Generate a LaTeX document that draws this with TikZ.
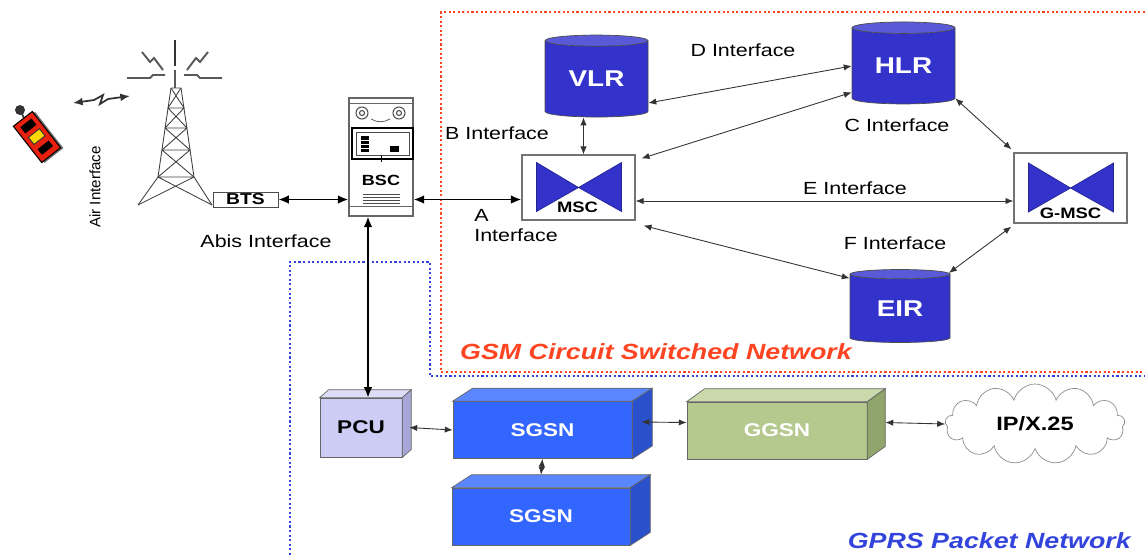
\documentclass[tikz,border=0pt]{standalone}
\usepackage{fontspec}
\setmainfont{Liberation Sans}[FakeStretch=1.22]
\newfontfamily\plainsans{Liberation Sans}
\usetikzlibrary{arrows.meta,positioning,shapes.geometric,shapes.symbols}

\definecolor{gsmred}{HTML}{FF4422}
\definecolor{gprsblue}{HTML}{3344DD}
\definecolor{dbblue}{HTML}{3333CC}
\definecolor{dbtop}{HTML}{5A5AD8}
\definecolor{sgsnfront}{HTML}{3366FF}
\definecolor{sgsntop}{HTML}{5A86FF}
\definecolor{sgsnside}{HTML}{2A50CC}
\definecolor{ggsnfront}{HTML}{B5C98E}
\definecolor{ggsntop}{HTML}{CAD9AC}
\definecolor{ggsnside}{HTML}{8FA56B}
\definecolor{pcufront}{HTML}{CCCCF5}
\definecolor{pcutop}{HTML}{DDDDF8}
\definecolor{pcuside}{HTML}{A8A8D8}
\definecolor{phonered}{HTML}{E82010}

\begin{document}
\begin{tikzpicture}[x=0.02cm, y=-0.02cm,
    iflabel/.style={font=\fontsize{10}{11.5}\selectfont, inner sep=0pt},
    swlabel/.style={font=\bfseries\fontsize{8.6}{10}\selectfont, inner sep=0pt},
    link/.style={{Latex[length=4.5pt,width=3.6pt]}-{Latex[length=4.5pt,width=3.6pt]}, line width=0.5pt, black!80},
    mainlink/.style={{Latex[length=6pt,width=5pt]}-{Latex[length=6pt,width=5pt]}, line width=1.1pt},
    dbase/.style={cylinder, shape border rotate=90, aspect=0.2, draw=black!70,
        cylinder uses custom fill, cylinder body fill=dbblue, cylinder end fill=dbtop,
        text=white, font=\bfseries\fontsize{13}{14}\selectfont, inner sep=0pt},
    switchbox/.style={draw=black!55, fill=white, line width=0.7pt, minimum width=2.26cm},
    bowtie/.style={fill=dbblue, draw=dbblue!70!black, line width=0.4pt},
    crate/.style={draw=black!60, minimum height=1.14cm, text=white,
        font=\bfseries\fontsize{10.5}{12}\selectfont},
    frame/.style={line width=1.2pt, dash pattern=on 1.2pt off 1.4pt},
    mast/.style={draw=black!75, line width=0.5pt},
    bolt/.style={draw=black!65, line width=1.1pt}
]
\useasboundingbox (0,0) rectangle (1145,555);

% network borders
\draw[frame, gsmred] (1145,12) -- (441,12) -- (441,372) -- (1145,372);
\draw[frame, gprsblue] (290,555) -- (290,262) -- (430,262) -- (430,376) -- (1145,376);
\node[anchor=west, text=gsmred, font=\bfseries\itshape\fontsize{12.5}{14}\selectfont] (gsmnet) at (454,352) {GSM Circuit Switched Network};
\node[anchor=east, text=gprsblue, font=\bfseries\itshape\fontsize{12.5}{14}\selectfont] (gprsnet) at (1137,541) {GPRS Packet Network};

% handset
\fill[black!80] (20,110) circle (0.1cm);
\draw[black!80, line width=1pt] (20,110) -- (24,118);
\begin{scope}[shift={(37,137)}, rotate=38]
    \fill[black!55] (-10,-21) rectangle (14,25);
    \filldraw[draw=black, fill=phonered, line width=0.6pt] (-12,-23) rectangle (12,23);
    \fill[black] (-7,-18) rectangle (7,-10);
    \filldraw[fill=yellow!75!orange, draw=black!80, line width=0.5pt] (-7,-5) rectangle (7,4);
    \fill[black] (-7,10) rectangle (7,17);
\end{scope}
\draw[{Latex[length=5.5pt,width=4.5pt]}-{Latex[length=5.5pt,width=4.5pt]}, black!80, line width=1pt]
    (73,103) -- (94,100) -- (103,95) -- (100,104) -- (108,99) -- (130,96);
\node[rotate=90, inner sep=0pt, font=\plainsans\fontsize{8.6}{10}\selectfont] (airif) at (95,187) {Air Interface};

% antenna tower
\draw[line width=1.4pt, black!80] (175,40) -- (175,66);
\draw[line width=1pt, black!65] (175,70) -- (175,88);
\draw[bolt] (142,52) -- (150,62) -- (154,58) -- (163,70);
\draw[bolt] (208,52) -- (200,62) -- (196,58) -- (187,70);
\draw[bolt] (127,78) -- (150,78) -- (153,75) -- (165,75);
\draw[bolt] (184,75) -- (197,75) -- (200,78) -- (222,78);
\draw[mast] (171,88) -- (158,177) -- (138,205);
\draw[mast] (181,88) -- (194,177) -- (212,205);
\foreach \ya/\la/\ra/\yb/\lb/\rb in {88/171/181/108/168/184, 108/168/184/128/165/187,
        128/165/187/150/162/190, 150/162/190/177/158/194, 177/158/194/205/138/212} {
    \draw[mast] (\la,\ya) -- (\ra,\ya) (\la,\ya) -- (\rb,\yb) (\ra,\ya) -- (\lb,\yb);
}

% base station side
\node[draw=black!70, fill=white, minimum width=1.3cm, minimum height=0.3cm, inner sep=0pt,
    font=\bfseries\fontsize{9}{10}\selectfont] (bts) at (245.5,199.5) {BTS};
\node[iflabel] (abisif) at (266,241) {Abis Interface};

\node[draw=black!60, fill=white, line width=0.7pt, minimum width=1.28cm, minimum height=2.36cm] (bsc) at (381,157) {};
\draw[black!60] (349,103) -- (413,103) (349,206) -- (413,206);
\foreach \cx in {362,399} {
    \draw[black!70, line width=0.6pt] (\cx,113) circle (0.12cm) (\cx,113) circle (0.05cm);
}
\draw[black!70] (371,119) to[bend right=30] (390,119);
\draw[black, line width=0.9pt] (352,128) rectangle (413,159);
\draw[black!70] (356,132) rectangle (409,155);
\fill[black] (361,136) rectangle (369,152);
\draw[white, line width=0.4pt] (361,140) -- (369,140) (361,144) -- (369,144) (361,148) -- (369,148);
\fill[black] (390,146) rectangle (399,152);
\draw[black] (381,155) -- (381,162);
\foreach \ly in {194,197,200,203} {
    \draw[black!70, line width=0.5pt] (363,\ly) -- (400,\ly);
}
\node[swlabel, font=\bfseries\fontsize{8.4}{10}\selectfont] (bsctxt) at (381,180) {BSC};

% switching centres
\node[switchbox, minimum height=1.3cm] (msc) at (578.5,187.5) {};
\node[switchbox, minimum height=1.4cm] (gmsc) at (1070.5,188) {};
\foreach \sw in {msc, gmsc} {
    \filldraw[bowtie] ([shift={(-42,-25)}]\sw.center) -- (\sw.center) -- ([shift={(-42,24)}]\sw.center) -- cycle;
    \filldraw[bowtie] ([shift={(43,-25)}]\sw.center) -- (\sw.center) -- ([shift={(43,24)}]\sw.center) -- cycle;
}
\node[swlabel] (msctxt) at ([shift={(-1,20)}]msc.center) {MSC};
\node[swlabel] (gmsctxt) at ([shift={(0,25)}]gmsc.center) {G-MSC};

% registers
\node[dbase, minimum width=2.06cm, minimum height=1.64cm] (vlr) at (596.5,79) {VLR};
\node[dbase, minimum width=2.06cm, minimum height=1.64cm] (hlr) at (903.5,66) {HLR};
\node[dbase, minimum width=2.0cm, minimum height=1.46cm] (eir) at (900,308.5) {EIR};

% GPRS nodes
\node[crate, fill=pcufront, text=black, minimum width=1.64cm, minimum height=1.18cm] (pcu) at (361,427.5) {PCU};
\node[crate, fill=sgsnfront, minimum width=3.58cm] (sgsna) at (542.5,430) {SGSN};
\node[crate, fill=sgsnfront, minimum width=3.56cm] (sgsnb) at (541,516.5) {SGSN};
\node[crate, fill=ggsnfront, minimum width=3.6cm] (ggsn) at (777,430.5) {GGSN};
\foreach \crt/\ctop/\cside/\dx/\dy in {pcu/pcutop/pcuside/9/-8, sgsna/sgsntop/sgsnside/20/-13,
        sgsnb/sgsntop/sgsnside/20/-13, ggsn/ggsntop/ggsnside/18/-13} {
    \filldraw[draw=black!60, fill=\ctop] (\crt.north west) -- ++(\dx,\dy)
        -- ([shift={(\dx,\dy)}]\crt.north east) -- (\crt.north east) -- cycle;
    \filldraw[draw=black!60, fill=\cside] (\crt.north east) -- ++(\dx,\dy)
        -- ([shift={(\dx,\dy)}]\crt.south east) -- (\crt.south east) -- cycle;
}
\node[cloud, cloud puffs=13, aspect=2.3, draw=black!45, minimum width=3.6cm, minimum height=1.6cm,
    font=\bfseries\fontsize{11}{12}\selectfont] (ipnet) at (1035,424) {IP/X.25};

% interfaces
\draw[mainlink] (bts.east) -- (bts.east -| bsc.west);
\draw[mainlink] (bsc.east |- bts.east) -- (msc.west |- bts.east);
\draw[mainlink] ([xshift=-0.26cm]bsc.south) -- ([xshift=-0.26cm]bsc.south |- pcu.north);
\draw[link] ([xshift=-0.26cm]vlr.south) -- ([xshift=-0.26cm]vlr.south |- msc.north);
\draw[link] (hlr.west) -- ([yshift=-0.48cm]vlr.east);
\draw[link] (hlr.207) -- ([shift={(6,4)}]msc.north east);
\draw[link] ([yshift=-0.27cm]msc.east) -- ([yshift=-0.27cm]msc.east -| gmsc.west);
\draw[link] ([shift={(8,5)}]msc.south east) -- (eir.149);
\draw[link] (hlr.-32) -- ([shift={(-2,-3)}]gmsc.north west);
\draw[link] ([shift={(-2,3)}]gmsc.south west) -- (eir.36);
\draw[link] ([xshift=0.14cm]pcu.east) -- (sgsna.west);
\draw[link] (sgsna.south) -- ([yshift=0.26cm]sgsnb.north);
\draw[link] ([shift={(9,-8)}]sgsna.east) -- ([shift={(0,-8)}]ggsn.west);
\draw[link] ([shift={(18,-8)}]ggsn.east) -- (ipnet.west);

\node[iflabel] (dif) at (743,50) {D Interface};
\node[iflabel] (cif) at (897,125) {C Interface};
\node[iflabel] (bif) at (497,133) {B Interface};
\node[iflabel] (eif) at (855,188) {E Interface};
\node[iflabel] (fif) at (895,243) {F Interface};
\node[iflabel, anchor=north west, align=left] (aif) at (474,209) {A\\Interface};
\end{tikzpicture}
\end{document}
